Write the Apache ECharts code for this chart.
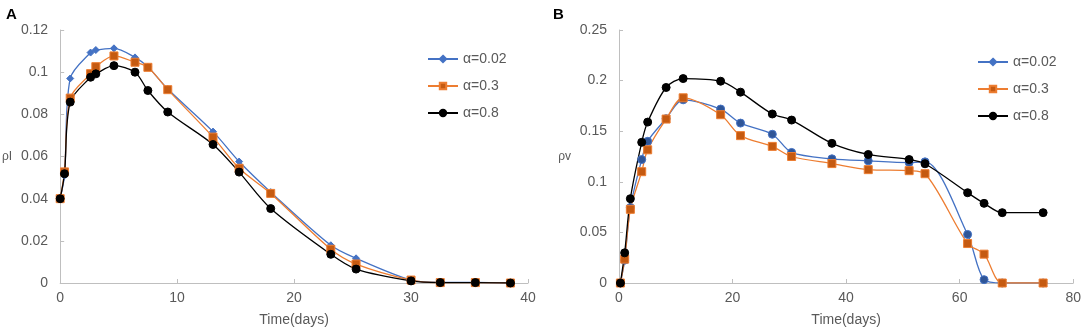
<!DOCTYPE html>
<html>
<head>
<meta charset="utf-8">
<script src="https://cdn.jsdelivr.net/npm/echarts@6/dist/echarts.min.js"></script>
<style>
  html, body { margin: 0; padding: 0; background: #fff; }
  #chart { width: 1084px; height: 332px; }
</style>
</head>
<body>
<div id="chart"></div>
<script>
// panel A: rho_I over time
const timeA = [0, 0.37, 0.86, 2.6, 3.05, 4.6, 6.4, 7.5, 9.2, 13.07, 15.3, 18.0, 23.14, 25.3, 30.0, 32.5, 35.5, 38.5];
const rhoI_002 = [0.04, 0.051, 0.097, 0.1093, 0.1105, 0.1113, 0.107, 0.1025, 0.092, 0.0718, 0.0576, 0.0431, 0.0179, 0.0117, 0.0014, 0.0003, 0.0003, 0];
const rhoI_03 = [0.04, 0.0527, 0.0877, 0.0993, 0.1026, 0.1077, 0.1047, 0.1023, 0.0917, 0.0692, 0.0544, 0.0425, 0.016, 0.009, 0.0014, 0.0002, 0.0002, 0];
const rhoI_08 = [0.04, 0.0518, 0.0858, 0.0976, 0.0992, 0.1031, 0.1, 0.0913, 0.0811, 0.0657, 0.0526, 0.0353, 0.0136, 0.0066, 0.001, 0.0002, 0.0002, 0];

// panel B: rho_v over time
const timeB = [0.25, 1.0, 2.0, 4.0, 5.05, 8.3, 11.3, 17.9, 21.4, 27.0, 30.4, 37.5, 43.9, 51.1, 53.9, 61.4, 64.3, 67.5, 74.7];
const rhoV_002 = [0, 0.0226, 0.0745, 0.122, 0.140, 0.1624, 0.181, 0.1719, 0.158, 0.147, 0.129, 0.1227, 0.1207, 0.119, 0.1197, 0.048, 0.0033, 0, 0];
const rhoV_03 = [0, 0.0236, 0.0728, 0.110, 0.1316, 0.162, 0.183, 0.1663, 0.1456, 0.135, 0.125, 0.118, 0.112, 0.111, 0.108, 0.039, 0.0285, 0, 0];
const rhoV_08 = [0, 0.0298, 0.0833, 0.139, 0.159, 0.1932, 0.202, 0.1994, 0.1886, 0.167, 0.161, 0.138, 0.127, 0.122, 0.1178, 0.0892, 0.0787, 0.0695, 0.0695];

const legendNames = ['α=0.02', 'α=0.3', 'α=0.8'];

const pair = (xs, ys) => xs.map((x, i) => [x, ys[i]]);

const FONT = 'Liberation Sans';
const LABEL_COLOR = '#595959';
const AXIS_COLOR = '#bfbfbf';
const BLUE = '#4472C4';
const ORANGE = '#ED7D31';
const ORANGE_DARK = '#C55A11';

const chart = echarts.init(document.getElementById('chart'));

const xAxisBase = {
  type: 'value',
  nameLocation: 'middle',
  nameGap: 30,
  nameTextStyle: { color: LABEL_COLOR, fontSize: 14, fontFamily: FONT },
  axisLine: { lineStyle: { color: AXIS_COLOR } },
  axisTick: { inside: true, length: 4, lineStyle: { color: AXIS_COLOR } },
  axisLabel: { color: LABEL_COLOR, fontSize: 14, fontFamily: FONT, margin: 8 },
  splitLine: { show: false }
};

const yAxisBase = {
  type: 'value',
  nameLocation: 'middle',
  nameRotate: 0,
  nameTextStyle: { color: LABEL_COLOR, fontSize: 12, fontFamily: FONT },
  axisLine: { show: true, lineStyle: { color: AXIS_COLOR } },
  axisTick: { show: true, inside: true, length: 4, lineStyle: { color: AXIS_COLOR } },
  axisLabel: { color: LABEL_COLOR, fontSize: 14, fontFamily: FONT, margin: 12 },
  splitLine: { show: false }
};

const lineSeries = (name, data, axis, color, symbol, size, markerColor, border) => ({
  name: name,
  type: 'line',
  xAxisIndex: axis,
  yAxisIndex: axis,
  data: data,
  smooth: 0.3,
  symbol: symbol,
  symbolSize: size,
  lineStyle: { color: color, width: 1.3 },
  itemStyle: { color: markerColor, borderColor: border, borderWidth: 1 },
  emphasis: { disabled: true }
});

const legendBase = {
  orient: 'vertical',
  padding: 0,
  itemWidth: 30,
  itemHeight: 8,
  itemGap: 13,
  textStyle: { color: LABEL_COLOR, fontSize: 14, fontFamily: FONT },
  data: legendNames
};

const option = {
  animation: false,
  backgroundColor: '#fff',
  grid: [
    { left: 60, top: 30, width: 468, height: 254 },
    { left: 619, top: 30, width: 455, height: 254 }
  ],
  xAxis: [
    Object.assign({}, xAxisBase, { gridIndex: 0, min: 0, max: 40, interval: 10, name: 'Time(days)' }),
    Object.assign({}, xAxisBase, { gridIndex: 1, min: 0, max: 80, interval: 20, name: 'Time(days)' })
  ],
  yAxis: [
    Object.assign({}, yAxisBase, { gridIndex: 0, min: 0, max: 0.12, interval: 0.02, name: 'ρI', nameGap: 48 }),
    Object.assign({}, yAxisBase, { gridIndex: 1, min: 0, max: 0.25, interval: 0.05, name: 'ρv', nameGap: 48 })
  ],
  legend: [
    Object.assign({}, legendBase, { left: 427, top: 52 }),
    Object.assign({}, legendBase, { left: 977, top: 55 })
  ],
  graphic: [
    { type: 'text', left: 6, top: 7, style: { text: 'A', font: 'bold 15px "Liberation Sans"', fill: '#000' } },
    { type: 'text', left: 553, top: 7, style: { text: 'B', font: 'bold 15px "Liberation Sans"', fill: '#000' } }
  ],
  series: [
    lineSeries(legendNames[0], pair(timeA, rhoI_002), 0, BLUE, 'diamond', 7, BLUE, BLUE),
    lineSeries(legendNames[1], pair(timeA, rhoI_03), 0, ORANGE, 'rect', 8, ORANGE_DARK, ORANGE),
    lineSeries(legendNames[2], pair(timeA, rhoI_08), 0, '#000', 'circle', 8, '#000', '#000'),
    lineSeries(legendNames[0], pair(timeB, rhoV_002), 1, BLUE, 'circle', 8, '#2F5597', BLUE),
    lineSeries(legendNames[1], pair(timeB, rhoV_03), 1, ORANGE, 'rect', 8, ORANGE_DARK, ORANGE),
    lineSeries(legendNames[2], pair(timeB, rhoV_08), 1, '#000', 'circle', 8, '#000', '#000')
  ]
};

chart.setOption(option);
</script>
</body>
</html>
